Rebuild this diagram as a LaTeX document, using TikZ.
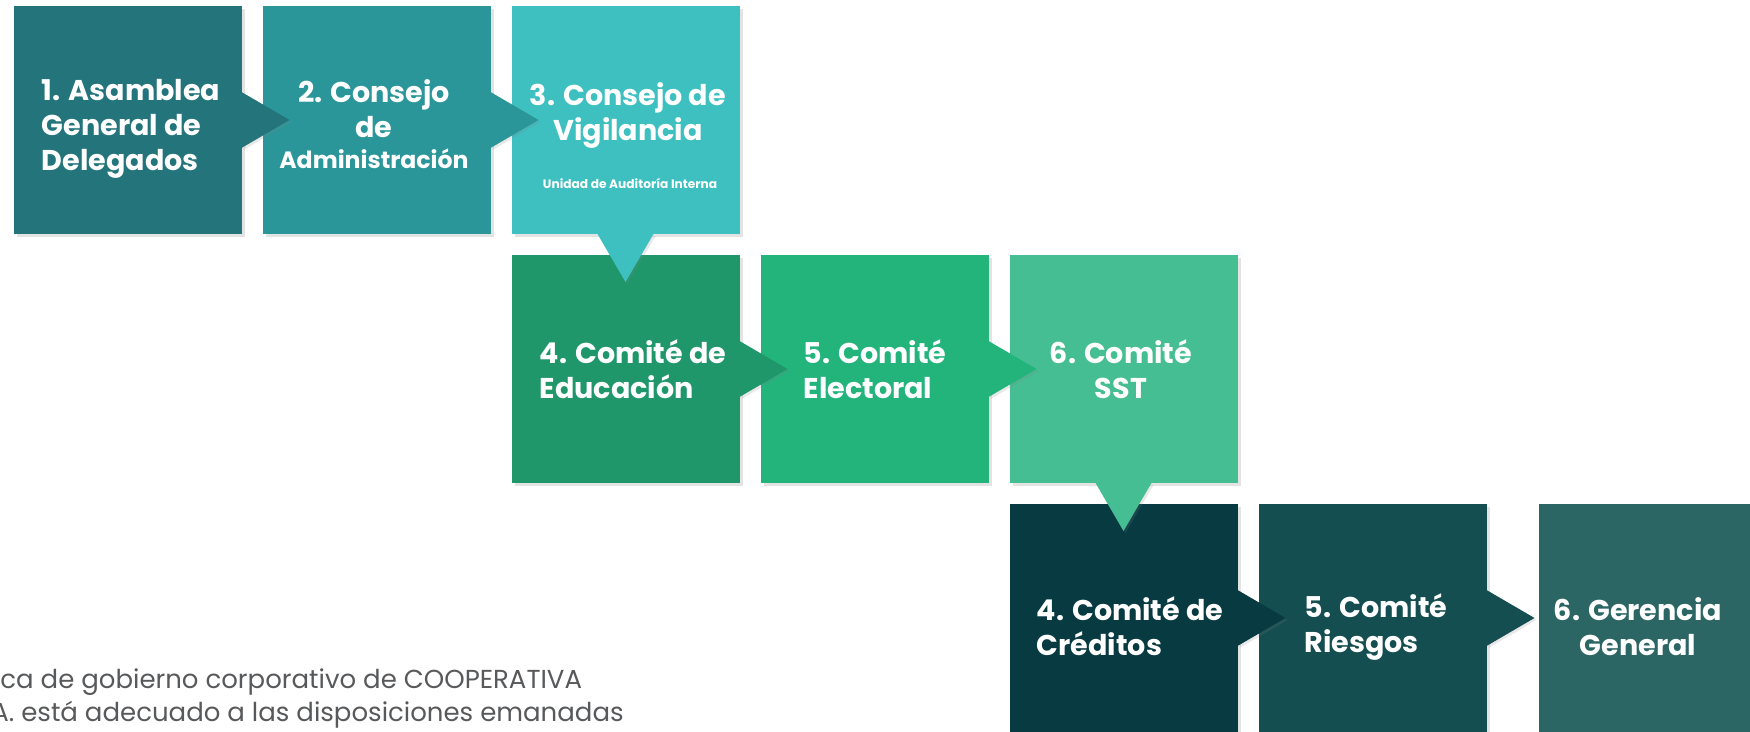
\documentclass[tikz,border=0pt]{standalone}
\usepackage{fontspec}
\setmainfont{Poppins}
\usetikzlibrary{calc,shadows}
\definecolor{asamblea}{HTML}{23757B}
\definecolor{consejo}{HTML}{2A9699}
\definecolor{vigilancia}{HTML}{3EC0C1}
\definecolor{educacion}{HTML}{20976B}
\definecolor{electoral}{HTML}{23B47C}
\definecolor{sst}{HTML}{46BE93}
\definecolor{creditos}{HTML}{083A41}
\definecolor{riesgos}{HTML}{144E50}
\definecolor{gerencia}{HTML}{2C6664}
\definecolor{nota}{HTML}{58595B}
\tikzset{
  box/.style={minimum width=114pt,minimum height=114pt,inner sep=0pt,outer sep=0pt,
    drop shadow={shadow xshift=1.5pt,shadow yshift=-1.5pt,opacity=0.22}},
  pointer/.style={drop shadow={shadow xshift=1pt,shadow yshift=-1pt,opacity=0.18}},
  boxtext/.style={text=white,inner sep=0pt,font=\fontsize{14.3}{17.5}\selectfont\bfseries},
  notetext/.style={text=nota,inner sep=0pt,anchor=west,font=\fontsize{13}{16}\selectfont}
}

\begin{document}
\begin{tikzpicture}[x=0.5pt,y=-0.5pt]
      \useasboundingbox (0,0) rectangle (1750,732);
      \clip (0,0) rectangle (1750,732);
      % boxes
      \node[box,fill=asamblea] (b1) at (127.5,120) {};
      \node[box,fill=consejo] (b2) at (376.5,120) {};
      \node[box,fill=vigilancia] (b3) at (625.5,120) {};
      \node[box,fill=educacion] (b4) at (625.5,369) {};
      \node[box,fill=electoral] (b5) at (874.5,369) {};
      \node[box,fill=sst] (b6) at (1123.5,369) {};
      \node[box,fill=creditos] (b7) at (1123.5,618) {};
      \node[box,fill=riesgos] (b8) at (1372.5,618) {};
      \node[box,fill=gerencia] (b9) at (1653,618) {};
      % pointers
      \fill[pointer,asamblea] ($(b1.east)+(0,-28)$) -- ($(b1.east)+(48,0)$) -- ($(b1.east)+(0,28)$) -- cycle;
      \fill[pointer,consejo] ($(b2.east)+(0,-28)$) -- ($(b2.east)+(48,0)$) -- ($(b2.east)+(0,28)$) -- cycle;
      \fill[pointer,vigilancia] ($(b3.south)+(-28,0)$) -- ($(b3.south)+(0,48)$) -- ($(b3.south)+(28,0)$) -- cycle;
      \fill[pointer,educacion] ($(b4.east)+(0,-28)$) -- ($(b4.east)+(48,0)$) -- ($(b4.east)+(0,28)$) -- cycle;
      \fill[pointer,electoral] ($(b5.east)+(0,-28)$) -- ($(b5.east)+(48,0)$) -- ($(b5.east)+(0,28)$) -- cycle;
      \fill[pointer,sst] ($(b6.south)+(-28,0)$) -- ($(b6.south)+(0,48)$) -- ($(b6.south)+(28,0)$) -- cycle;
      \fill[pointer,creditos] ($(b7.east)+(0,-28)$) -- ($(b7.east)+(48,0)$) -- ($(b7.east)+(0,28)$) -- cycle;
      \fill[pointer,riesgos] ($(b8.east)+(0,-28)$) -- ($(b8.east)+(48,0)$) -- ($(b8.east)+(0,28)$) -- cycle;
      % texts
      \node[boxtext,align=left] (t1) at (131,129) {1. Asamblea\\General de\\Delegados};
      \node[boxtext,align=center] (t2) at (374,124) {2. Consejo\\de\\[-2pt]{\fontsize{11.8}{13}\selectfont Administración}};
      \node[boxtext,align=center] (t3) at (628,115) {3. Consejo de\\Vigilancia};
      \node[boxtext,font=\fontsize{6.1}{7}\selectfont\bfseries] (u3) at (630,183) {Unidad de Auditoría Interna};
      \node[boxtext,align=left] (t4) at (633,369) {4. Comité de\\Educación};
      \node[boxtext,align=left] (t5) at (875,369) {5. Comité\\Electoral};
      \node[boxtext,align=center] (t6) at (1121,369) {6. Comité\\SST};
      \node[boxtext,align=left] (t7) at (1130,626) {4. Comité de\\Créditos};
      \node[boxtext,align=left] (t8) at (1376,627) {5. Comité\\Riesgos};
      \node[boxtext,align=center] (t9) at (1638,627) {6. Gerencia\\General};
      % note
      \node[notetext] (n1) at (0,682) {ca de gobierno corporativo de COOPERATIVA};
      \node[notetext] (n2) at (-9,715) {A. está adecuado a las disposiciones emanadas};
\end{tikzpicture}
\end{document}
